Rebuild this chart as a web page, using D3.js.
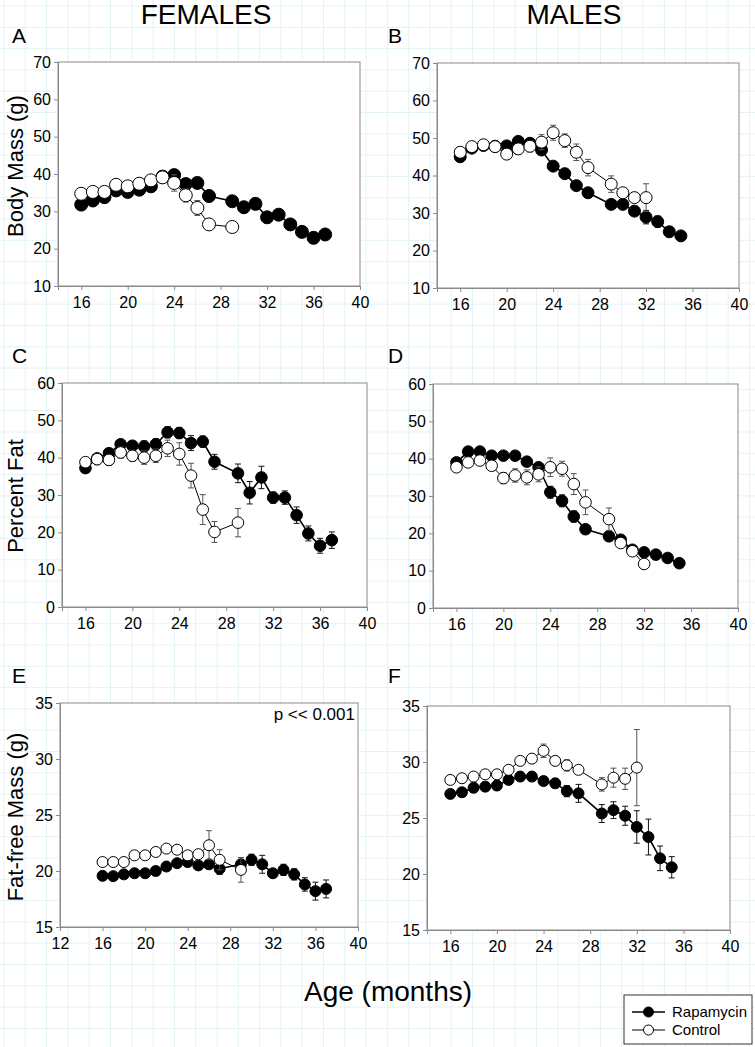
<!DOCTYPE html>
<html>
<head>
<meta charset="utf-8">
<script src="https://cdn.jsdelivr.net/npm/d3@7"></script>
<style>
  html, body { margin: 0; padding: 0; background: #ffffff; }
  svg { display: block; }
  text { font-family: "Liberation Sans", Arial, sans-serif; fill: #000; }
</style>
</head>
<body>
<svg id="chart" width="755" height="1047"></svg>
<script>
// ---------------- DATA ----------------
const monthsFemRapa = [16,17,18,19,20,21,22,23,24,25,26,27,29,30,31,32,33,34,35,36,37];
const monthsFemCtrl = [16,17,18,19,20,21,22,23,24,25,26,27,29];
const monthsMalRapa = [16,17,18,19,20,21,22,23,24,25,26,27,29,30,31,32,33,34,35];
const monthsMalCtrl = [16,17,18,19,20,21,22,23,24,25,26,27,29,30,31,32];

// Body mass (g)
const massFemRapa    = [31.8,32.9,33.8,35.6,35.2,35.8,36.7,39.3,39.7,37.3,37.6,34.1,32.7,31.1,32.0,28.4,29.1,26.5,24.5,22.9,23.8];
const massFemRapaErr = [0.8,0.8,0.8,0.8,0.8,0.8,0.8,1.0,1.0,1.5,1.2,1.0,1.0,1.0,1.0,0.8,0.9,0.8,0.8,0.9,0.8];
const massFemCtrl    = [34.7,35.2,35.2,37.1,36.7,37.4,38.3,39.1,37.6,34.3,30.9,26.5,25.8];
const massFemCtrlErr = [0.6,0.6,0.6,0.7,0.7,0.7,0.8,1.5,2.2,1.8,2.0,1.5,0.6];
const massMalRapa    = [45.0,47.3,48.0,47.8,47.9,49.1,48.6,46.8,42.5,40.5,37.3,35.4,32.3,32.3,30.5,28.9,27.7,25.0,23.9];
const massMalRapaErr = [0.7,0.7,0.7,0.7,0.8,0.8,0.8,1.0,1.2,1.0,1.0,1.0,1.0,1.0,1.0,1.8,1.5,1.2,0.8];
const massMalCtrl    = [46.2,47.7,48.2,47.7,45.7,47.1,47.8,48.9,51.4,49.3,46.2,42.1,37.7,35.4,34.1,34.1];
const massMalCtrlErr = [0.6,0.6,0.6,0.6,1.3,1.5,1.5,2.0,2.0,1.8,2.2,2.2,2.2,1.0,0.8,3.7];

// Percent fat
const fatFemRapa    = [37.2,39.8,41.2,43.6,43.2,43.0,43.6,46.8,46.6,43.9,44.3,38.9,35.8,30.6,34.7,29.3,29.3,24.6,19.7,16.4,17.9];
const fatFemRapaErr = [1.2,1.2,1.2,1.2,1.2,1.5,1.5,1.5,1.5,2.0,1.5,2.0,2.5,3.0,3.0,1.5,1.8,2.2,2.0,2.0,2.2];
const fatFemCtrl    = [38.8,39.6,39.4,41.4,40.5,40.0,40.5,42.5,41.0,35.2,26.1,20.1,22.6];
const fatFemCtrlErr = [1.2,1.5,1.5,1.5,1.5,1.8,1.8,2.2,3.0,3.3,4.0,2.8,3.8];
const fatMalRapa    = [39.0,41.9,41.9,40.8,40.8,40.8,39.2,37.7,31.0,28.7,24.5,21.1,19.2,18.3,15.6,14.9,14.3,13.4,12.0];
const fatMalRapaErr = [0.8,0.8,0.8,0.8,0.8,0.8,0.8,0.8,1.6,1.6,1.5,1.2,1.2,0.8,0.8,0.6,0.6,0.6,0.6];
const fatMalCtrl    = [37.7,39.0,39.5,38.1,34.8,35.5,35.0,35.8,37.7,37.3,33.2,28.3,23.8,17.4,15.2,11.8];
const fatMalCtrlErr = [0.8,1.0,1.0,1.0,1.5,1.8,2.0,2.0,2.5,2.0,2.8,3.3,3.0,1.0,1.0,0.6];

// Fat-free mass (g)
const ffmFemRapa    = [19.57,19.54,19.7,19.8,19.8,20.0,20.4,20.7,20.8,20.5,20.6,20.2,20.6,21.0,20.6,19.8,20.1,19.7,18.8,18.2,18.4];
const ffmFemRapaErr = [0.2,0.2,0.2,0.2,0.2,0.2,0.2,0.2,0.3,0.3,0.3,0.5,0.6,0.5,0.8,0.3,0.5,0.5,0.6,0.8,0.8];
const ffmFemCtrl    = [20.8,20.8,20.8,21.4,21.4,21.7,22.0,21.9,21.4,21.5,22.3,21.0,20.1];
const ffmFemCtrlErr = [0.2,0.2,0.2,0.2,0.2,0.3,0.35,0.3,0.3,0.3,1.3,0.9,1.1];
const ffmMalRapa    = [27.15,27.3,27.7,27.8,27.9,28.4,28.7,28.7,28.3,28.1,27.4,27.2,25.4,25.7,25.2,24.2,23.3,21.4,20.6];
const ffmMalRapaErr = [0.3,0.3,0.4,0.4,0.4,0.4,0.4,0.4,0.4,0.4,0.5,0.8,0.8,0.75,0.85,1.45,1.6,1.1,0.95];
const ffmMalCtrl    = [28.4,28.55,28.7,28.9,28.9,29.3,30.1,30.3,31.0,30.1,29.7,29.3,28.0,28.6,28.5,29.5];
const ffmMalCtrlErr = [0.2,0.2,0.2,0.2,0.2,0.4,0.3,0.3,0.6,0.3,0.5,0.4,0.6,0.85,0.95,3.4];

// Tick labels
const xTicksStd = [16,20,24,28,32,36,40];
const xTicksE   = [12,16,20,24,28,32,36,40];
const yTicksMass = [10,20,30,40,50,60,70];
const yTicksFat  = [0,10,20,30,40,50,60];
const yTicksFFM  = [15,20,25,30,35];

const columnTitles = ["FEMALES", "MALES"];
const seriesNames = ["Rapamycin", "Control"];
const xTitle = "Age (months)";

// ---------------- LAYOUT ----------------
const svg = d3.select("#chart");
const W = 755, H = 1047;
const FONT = '"Liberation Sans", Arial, sans-serif';

// faint graph-paper background
const gridStep = 21.3;
const bg = svg.append("g").attr("stroke", "#e3f3f5").attr("stroke-width", 1);
for (let x = 4; x < W; x += gridStep) bg.append("line").attr("x1", x).attr("x2", x).attr("y1", 0).attr("y2", H);
for (let y = 6; y < H; y += gridStep) bg.append("line").attr("x1", 0).attr("x2", W).attr("y1", y).attr("y2", y);

const panels = [
  {letter:"A", lx:12, ly:43, box:[58,62,360,286], xd:[14,40], xt:xTicksStd, yd:[10,70], yt:yTicksMass, r:6.5, title:"Body Mass (g)", tc:166,
   rapa:{m:monthsFemRapa, v:massFemRapa, e:massFemRapaErr}, ctrl:{m:monthsFemCtrl, v:massFemCtrl, e:massFemCtrlErr}},
  {letter:"B", lx:388, ly:43, box:[437,63,739,288], xd:[14,40], xt:xTicksStd, yd:[10,70], yt:yTicksMass, r:6,
   rapa:{m:monthsMalRapa, v:massMalRapa, e:massMalRapaErr}, ctrl:{m:monthsMalCtrl, v:massMalCtrl, e:massMalCtrlErr}},
  {letter:"C", lx:12, ly:363, box:[62,383,367,607], xd:[14,40], xt:xTicksStd, yd:[0,60], yt:yTicksFat, r:5.8, title:"Percent Fat", tc:496,
   rapa:{m:monthsFemRapa, v:fatFemRapa, e:fatFemRapaErr}, ctrl:{m:monthsFemCtrl, v:fatFemCtrl, e:fatFemCtrlErr}},
  {letter:"D", lx:388, ly:363, box:[433,384,738,608], xd:[14,40], xt:xTicksStd, yd:[0,60], yt:yTicksFat, r:5.8,
   rapa:{m:monthsMalRapa, v:fatMalRapa, e:fatMalRapaErr}, ctrl:{m:monthsMalCtrl, v:fatMalCtrl, e:fatMalCtrlErr}},
  {letter:"E", lx:12, ly:683, box:[60,703,358,927], xd:[12,40], xt:xTicksE, yd:[15,35], yt:yTicksFFM, r:5.5, title:"Fat-free Mass (g)", tc:817,
   note:"p << 0.001",
   rapa:{m:monthsFemRapa, v:ffmFemRapa, e:ffmFemRapaErr}, ctrl:{m:monthsFemCtrl, v:ffmFemCtrl, e:ffmFemCtrlErr}},
  {letter:"F", lx:388, ly:683, box:[427,706,730,930], xd:[14,40], xt:xTicksStd, yd:[15,35], yt:yTicksFFM, r:5.5,
   rapa:{m:monthsMalRapa, v:ffmMalRapa, e:ffmMalRapaErr}, ctrl:{m:monthsMalCtrl, v:ffmMalCtrl, e:ffmMalCtrlErr}}
];

// column titles
svg.append("text").attr("x", 206).attr("y", 24).attr("text-anchor", "middle")
  .style("font-size", "28px").text(columnTitles[0]);
svg.append("text").attr("x", 574).attr("y", 24).attr("text-anchor", "middle")
  .style("font-size", "28px").text(columnTitles[1]);

const AXIS = "#8a8a8a";

panels.forEach(p => {
  const [x0, y0, x1, y1] = p.box;
  const x = d3.scaleLinear().domain(p.xd).range([x0, x1]);
  const y = d3.scaleLinear().domain(p.yd).range([y1, y0]);
  const g = svg.append("g");

  // panel letter
  svg.append("text").attr("x", p.lx).attr("y", p.ly).style("font-size", "21px").text(p.letter);

  // plot area
  g.append("rect").attr("x", x0).attr("y", y0).attr("width", x1 - x0).attr("height", y1 - y0)
    .attr("fill", "#fff").attr("stroke", AXIS).attr("stroke-width", 1);

  // axes
  const xa = g.append("g").attr("transform", `translate(0,${y1})`)
    .call(d3.axisBottom(x).tickValues(p.xt).tickSize(4).tickPadding(7).tickFormat(d3.format("d")));
  const ya = g.append("g").attr("transform", `translate(${x0},0)`)
    .call(d3.axisLeft(y).tickValues(p.yt).tickSize(4).tickPadding(3).tickFormat(d3.format("d")));
  [xa, ya].forEach(a => {
    a.select(".domain").attr("stroke", AXIS);
    a.selectAll(".tick line").attr("stroke", AXIS);
    a.selectAll(".tick text").style("font-size", "16px").style("font-family", FONT).attr("fill", "#000");
  });

  // axis title
  if (p.title) {
    svg.append("text").attr("transform", `translate(23,${p.tc}) rotate(-90)`)
      .attr("text-anchor", "middle").style("font-size", "22px").text(p.title);
  }
  if (p.note) {
    g.append("text").attr("x", x1 - 3).attr("y", y0 + 17).attr("text-anchor", "end")
      .style("font-size", "17px").text(p.note);
  }

  const mk = s => s.m.map((m, i) => ({m, v: s.v[i], e: s.e[i]}));
  const rapa = mk(p.rapa), ctrl = mk(p.ctrl);
  const line = d3.line().x(d => x(d.m)).y(d => y(d.v));

  const drawSeries = (data, filled) => {
    const sg = g.append("g");
    sg.append("path").datum(data).attr("d", line).attr("fill", "none")
      .attr("stroke", "#000").attr("stroke-width", filled ? 1.6 : 1);
    const eb = sg.append("g").attr("stroke", filled ? "#111" : "#555").attr("stroke-width", 1);
    data.forEach(d => {
      const cx = x(d.m), ya1 = y(d.v + d.e), ya2 = y(d.v - d.e);
      eb.append("line").attr("x1", cx).attr("x2", cx).attr("y1", ya1).attr("y2", ya2);
      eb.append("line").attr("x1", cx - 3).attr("x2", cx + 3).attr("y1", ya1).attr("y2", ya1);
      eb.append("line").attr("x1", cx - 3).attr("x2", cx + 3).attr("y1", ya2).attr("y2", ya2);
    });
    sg.selectAll("circle").data(data).join("circle")
      .attr("cx", d => x(d.m)).attr("cy", d => y(d.v)).attr("r", p.r)
      .attr("fill", filled ? "#000" : "#fff").attr("stroke", "#000").attr("stroke-width", 1);
  };
  drawSeries(rapa, true);
  drawSeries(ctrl, false);
});

// x title
svg.append("text").attr("x", 388).attr("y", 1001).attr("text-anchor", "middle")
  .style("font-size", "28px").text(xTitle);

// legend
const lg = svg.append("g");
lg.append("rect").attr("x", 624).attr("y", 995).attr("width", 128).attr("height", 49)
  .attr("fill", "#fff").attr("stroke", "#333").attr("stroke-width", 1);
seriesNames.forEach((name, i) => {
  const ly = 1012 + i * 18;
  lg.append("line").attr("x1", 632).attr("x2", 665).attr("y1", ly).attr("y2", ly)
    .attr("stroke", "#000").attr("stroke-width", i === 0 ? 1.6 : 1);
  lg.append("circle").attr("cx", 648.5).attr("cy", ly).attr("r", 5)
    .attr("fill", i === 0 ? "#000" : "#fff").attr("stroke", "#000");
  lg.append("text").attr("x", 672).attr("y", ly + 5).style("font-size", "15px").text(name);
});
</script>
</body>
</html>
